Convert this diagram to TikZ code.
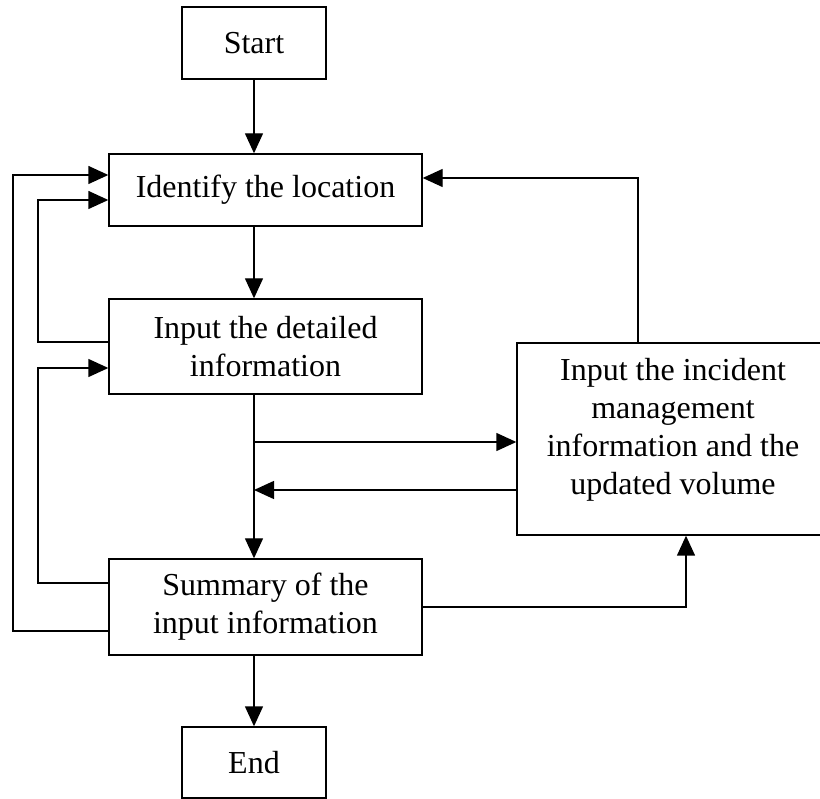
\documentclass[tikz,border=0pt]{standalone}
\usepackage{fontspec}
\setmainfont{Liberation Serif}
\usetikzlibrary{arrows.meta}
\begin{document}
\begin{tikzpicture}[x=1pt,y=-1pt,
  box/.style={draw, line width=1.4pt, rectangle, inner sep=0pt, align=center,
    font=\fontsize{32}{38}\selectfont},
  label/.style={align=center, inner sep=0pt, font=\fontsize{32}{38}\selectfont},
  flow/.style={line width=1.4pt, -{Triangle[length=20pt,width=18pt]}},
  plain/.style={line width=1.4pt}]
\useasboundingbox (0,0) rectangle (820,799);

% boxes
\node[box, minimum width=144pt, minimum height=72pt] (start) at (254,43) {Start};
\node[box, minimum width=313pt, minimum height=72pt] (ident) at (265.5,190) {Identify the location};
\node[box, minimum width=313pt, minimum height=95pt] (detail) at (265.5,346.5) {Input the detailed\\information};
\node[box, minimum width=313pt, minimum height=96pt] (summary) at (265.5,607) {Summary of the\\input information};
\node[box, minimum width=144pt, minimum height=71pt] (endbox) at (254,762.5) {End};
\node[box, minimum width=312pt, minimum height=192pt] (incident) at (673,439) {};
\node[label] (incidenttext) at (673,430) {Input the incident\\management\\information and the\\updated volume};

% helper points for connector levels
\coordinate (toinc) at (254,442);
\coordinate (frominc) at (517,490);
\coordinate (upx) at (686,607);
\coordinate (topx) at (638,178);
\coordinate (outerA) at (109,631);
\coordinate (outerB) at (13,631);
\coordinate (outerC) at (13,175);
\coordinate (midA) at (109,342);
\coordinate (midB) at (38,342);
\coordinate (midC) at (38,200);
\coordinate (lowA) at (109,583);
\coordinate (lowB) at (38,583);
\coordinate (lowC) at (38,368);

% main trunk
\draw[flow] (start.south) -- (start.south |- ident.north);
\draw[flow] (start |- ident.south) -- (start |- detail.north);
\draw[flow] (start |- detail.south) -- (start |- summary.north);
\draw[flow] (start |- summary.south) -- (endbox.north);

% exchange with the incident box
\draw[flow] (toinc) -- (toinc -| incident.west);
\draw[flow] (frominc) -- (frominc -| start);
\draw[flow] (summary.east) -- (upx) -- (upx |- incident.south);
\draw[flow] (topx |- incident.north) -- (topx) -- (ident.east |- topx);

% feedback loops on the left
\draw[flow] (outerA) -- (outerB) -- (outerC) -- (ident.west |- outerC);
\draw[flow] (midA) -- (midB) -- (midC) -- (ident.west |- midC);
\draw[flow] (lowA) -- (lowB) -- (lowC) -- (detail.west |- lowC);
\end{tikzpicture}
\end{document}
